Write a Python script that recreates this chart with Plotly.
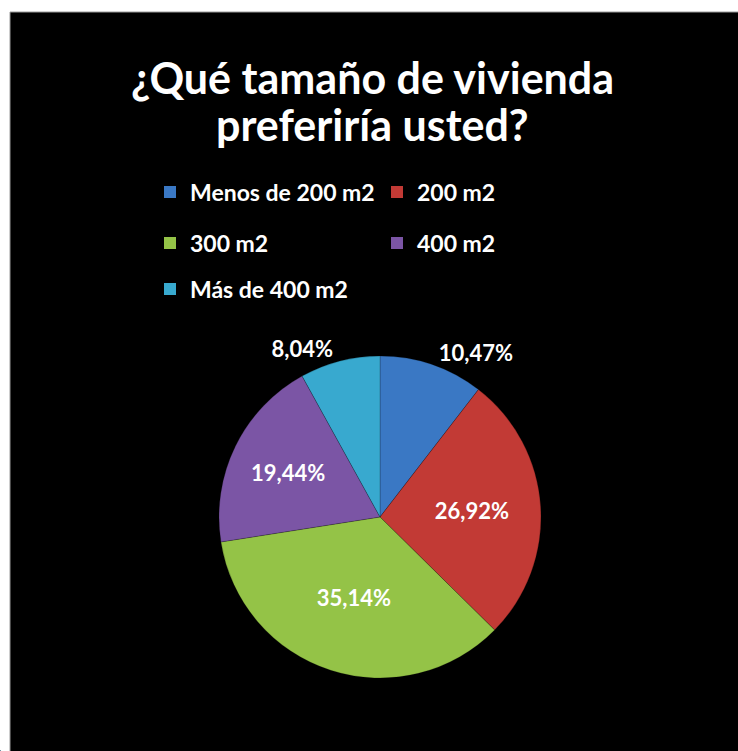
import plotly.graph_objects as go

categories = ["Menos de 200 m2", "200 m2", "300 m2", "400 m2", "Más de 400 m2"]
values = [10.47, 26.92, 35.14, 19.44, 8.04]
value_labels = ["10,47%", "26,92%", "35,14%", "19,44%", "8,04%"]
colors = ["#3A78C4", "#C23A35", "#94C347", "#7B55A5", "#38A9CF"]
text_positions = ["outside", "inside", "inside", "inside", "outside"]
legend_rows = ["legend", "legend", "legend2", "legend2", "legend3"]
title_lines = ["¿Qué tamaño de vivienda", "preferiría usted?"]

W, H = 738, 751
FONT = "Lato"

fig = go.Figure()

fig.add_trace(go.Pie(
    labels=categories,
    values=values,
    text=value_labels,
    texttemplate="%{text}",
    textinfo="text",
    textposition=text_positions,
    insidetextorientation="horizontal",
    sort=False,
    direction="clockwise",
    rotation=0,
    marker=dict(colors=colors, line=dict(color="rgba(0,0,0,0.25)", width=0.8)),
    textfont=dict(family=FONT, size=22, color="white", weight="bold"),
    outsidetextfont=dict(family=FONT, size=22, color="white", weight="bold"),
    domain=dict(x=[(380 - 161) / W, (380 + 161) / W], y=[(H - 678) / H, (H - 356) / H]),
    showlegend=False,
    hoverinfo="label+percent",
))

# Legend entries: tiny pies, one per category, assigned to row legends
for cat, col, lg in zip(categories, colors, legend_rows):
    fig.add_trace(go.Pie(
        labels=[cat],
        values=[1],
        marker=dict(colors=[col]),
        textinfo="none",
        domain=dict(x=[0, 0.001], y=[0, 0.001]),
        showlegend=True,
        legend=lg,
        hoverinfo="skip",
    ))

legend_common = dict(
    orientation="h",
    font=dict(family=FONT, size=23, color="white", weight="bold"),
    bgcolor="rgba(0,0,0,0)",
    entrywidth=182,
    entrywidthmode="pixels",
    xanchor="left",
    yanchor="middle",
    itemclick=False,
    itemdoubleclick=False,
)

annotations = []
for line, yc in zip(title_lines, [77, 125]):
    annotations.append(dict(
        text=line, x=372 / W, y=1 - yc / H, xref="paper", yref="paper",
        xanchor="center", yanchor="middle", showarrow=False,
        font=dict(family=FONT, size=43, color="white", weight="bold"),
    ))

fig.update_layout(
    width=W,
    height=H,
    margin=dict(l=0, r=0, t=0, b=0),
    paper_bgcolor="black",
    plot_bgcolor="black",
    legend=dict(x=150 / W, y=1 - 192 / H, **legend_common),
    legend2=dict(x=150 / W, y=1 - 243 / H, **legend_common),
    legend3=dict(x=150 / W, y=1 - 289 / H, **legend_common),
    annotations=annotations,
    shapes=[
        dict(type="rect", xref="paper", yref="paper",
             x0=0, x1=10 / W, y0=0, y1=1, fillcolor="white", line=dict(width=0), layer="below"),
        dict(type="rect", xref="paper", yref="paper",
             x0=0, x1=1, y0=1 - 12 / H, y1=1, fillcolor="white", line=dict(width=0), layer="below"),
        dict(type="line", xref="paper", yref="paper",
             x0=10 / W, x1=10 / W, y0=0, y1=1 - 12 / H, line=dict(color="#9a9a9a", width=1), layer="below"),
        dict(type="line", xref="paper", yref="paper",
             x0=10 / W, x1=1, y0=1 - 12 / H, y1=1 - 12 / H, line=dict(color="#9a9a9a", width=1), layer="below"),
    ],
)

fig.write_html("out.html")
